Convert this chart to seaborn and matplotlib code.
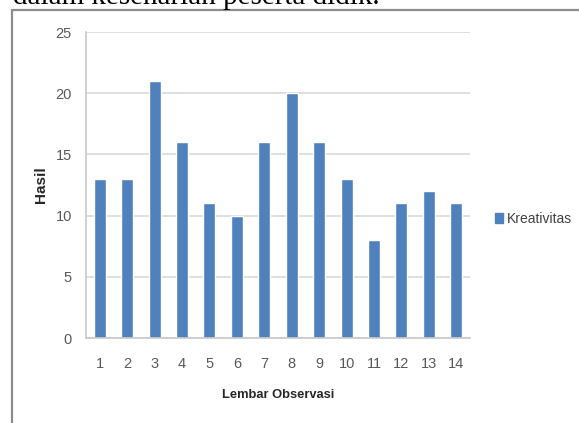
import matplotlib
matplotlib.use("Agg")
import matplotlib.pyplot as plt
import seaborn as sns
import pandas as pd
from matplotlib.patches import Patch
from matplotlib.lines import Line2D

# Data
lembar = ["1", "2", "3", "4", "5", "6", "7", "8", "9", "10", "11", "12", "13", "14"]
kreativitas = [13, 13, 21, 16, 11, 10, 16, 20, 16, 13, 8, 11, 12, 11]
y_ticks = [0, 5, 10, 15, 20, 25]

df = pd.DataFrame({"Lembar Observasi": lembar, "Hasil": kreativitas})

sns.set_theme(style="white")
plt.rcParams["font.family"] = ["Liberation Sans", "DejaVu Sans"]

W, H = 579, 423
fig = plt.figure(figsize=(W / 100, H / 100), dpi=100)
fig.patch.set_facecolor("white")

ax = fig.add_axes([86 / W, 1 - 338 / H, (470 - 86) / W, (338 - 32) / H])

bar_color = "#4f81bd"
sns.barplot(data=df, x="Lembar Observasi", y="Hasil", color=bar_color,
            width=0.44, ax=ax, saturation=1)

ax.set_ylim(0, 25)
ax.set_xlim(-0.5, len(lembar) - 0.5)
ax.set_yticks(y_ticks)
ax.yaxis.grid(True, color="#d9d9d9", linewidth=1.2)
ax.set_axisbelow(True)
for side in ["top", "right"]:
    ax.spines[side].set_visible(False)
for side in ["left", "bottom"]:
    ax.spines[side].set_color("#c8c8c8")
    ax.spines[side].set_linewidth(1.2)

ax.tick_params(axis="y", length=4.3, width=1.0, color="#c8c8c8",
               labelsize=10.5, labelcolor="#595959", pad=5.8)
ax.tick_params(axis="x", length=0, labelsize=10.5, labelcolor="#595959", pad=14)

ax.set_xlabel("Lembar Observasi", fontsize=9.3, fontweight="bold",
              color="#262626")
ax.xaxis.set_label_coords(0.5, (338 - 395) / 306)
ax.xaxis.label.set_va("center")
ax.set_ylabel("Hasil", fontsize=11, fontweight="bold", color="#262626")
ax.yaxis.set_label_coords((41 - 86) / 384, 0.5)
ax.yaxis.label.set_va("center")

# Legend at the right of the plot area
handle = Patch(facecolor=bar_color, edgecolor=bar_color)
fig.legend([handle], ["Kreativitas"], loc="center left",
           bbox_to_anchor=(482 / W, 1 - 219 / H), frameon=False,
           handlelength=0.6, handleheight=0.75, handletextpad=0.3,
           prop={"size": 10}, labelcolor="#404040")

# Chart frame (left and top edges)
fig.add_artist(Line2D([12 / W, 12 / W], [0, 1 - 10 / H], transform=fig.transFigure,
                      color="#8c8c8c", linewidth=1.6))
fig.add_artist(Line2D([12 / W, 1], [1 - 10 / H, 1 - 10 / H], transform=fig.transFigure,
                      color="#8c8c8c", linewidth=1.6))

# Text of the preceding paragraph, running above the frame
fig.text(13 / W, 1 - 4 / H, "dalam keseharian peserta didik.",
         family=["Liberation Serif", "DejaVu Serif"], fontsize=21,
         color="black", ha="left", va="baseline")

fig.savefig("out.png", dpi=100)
